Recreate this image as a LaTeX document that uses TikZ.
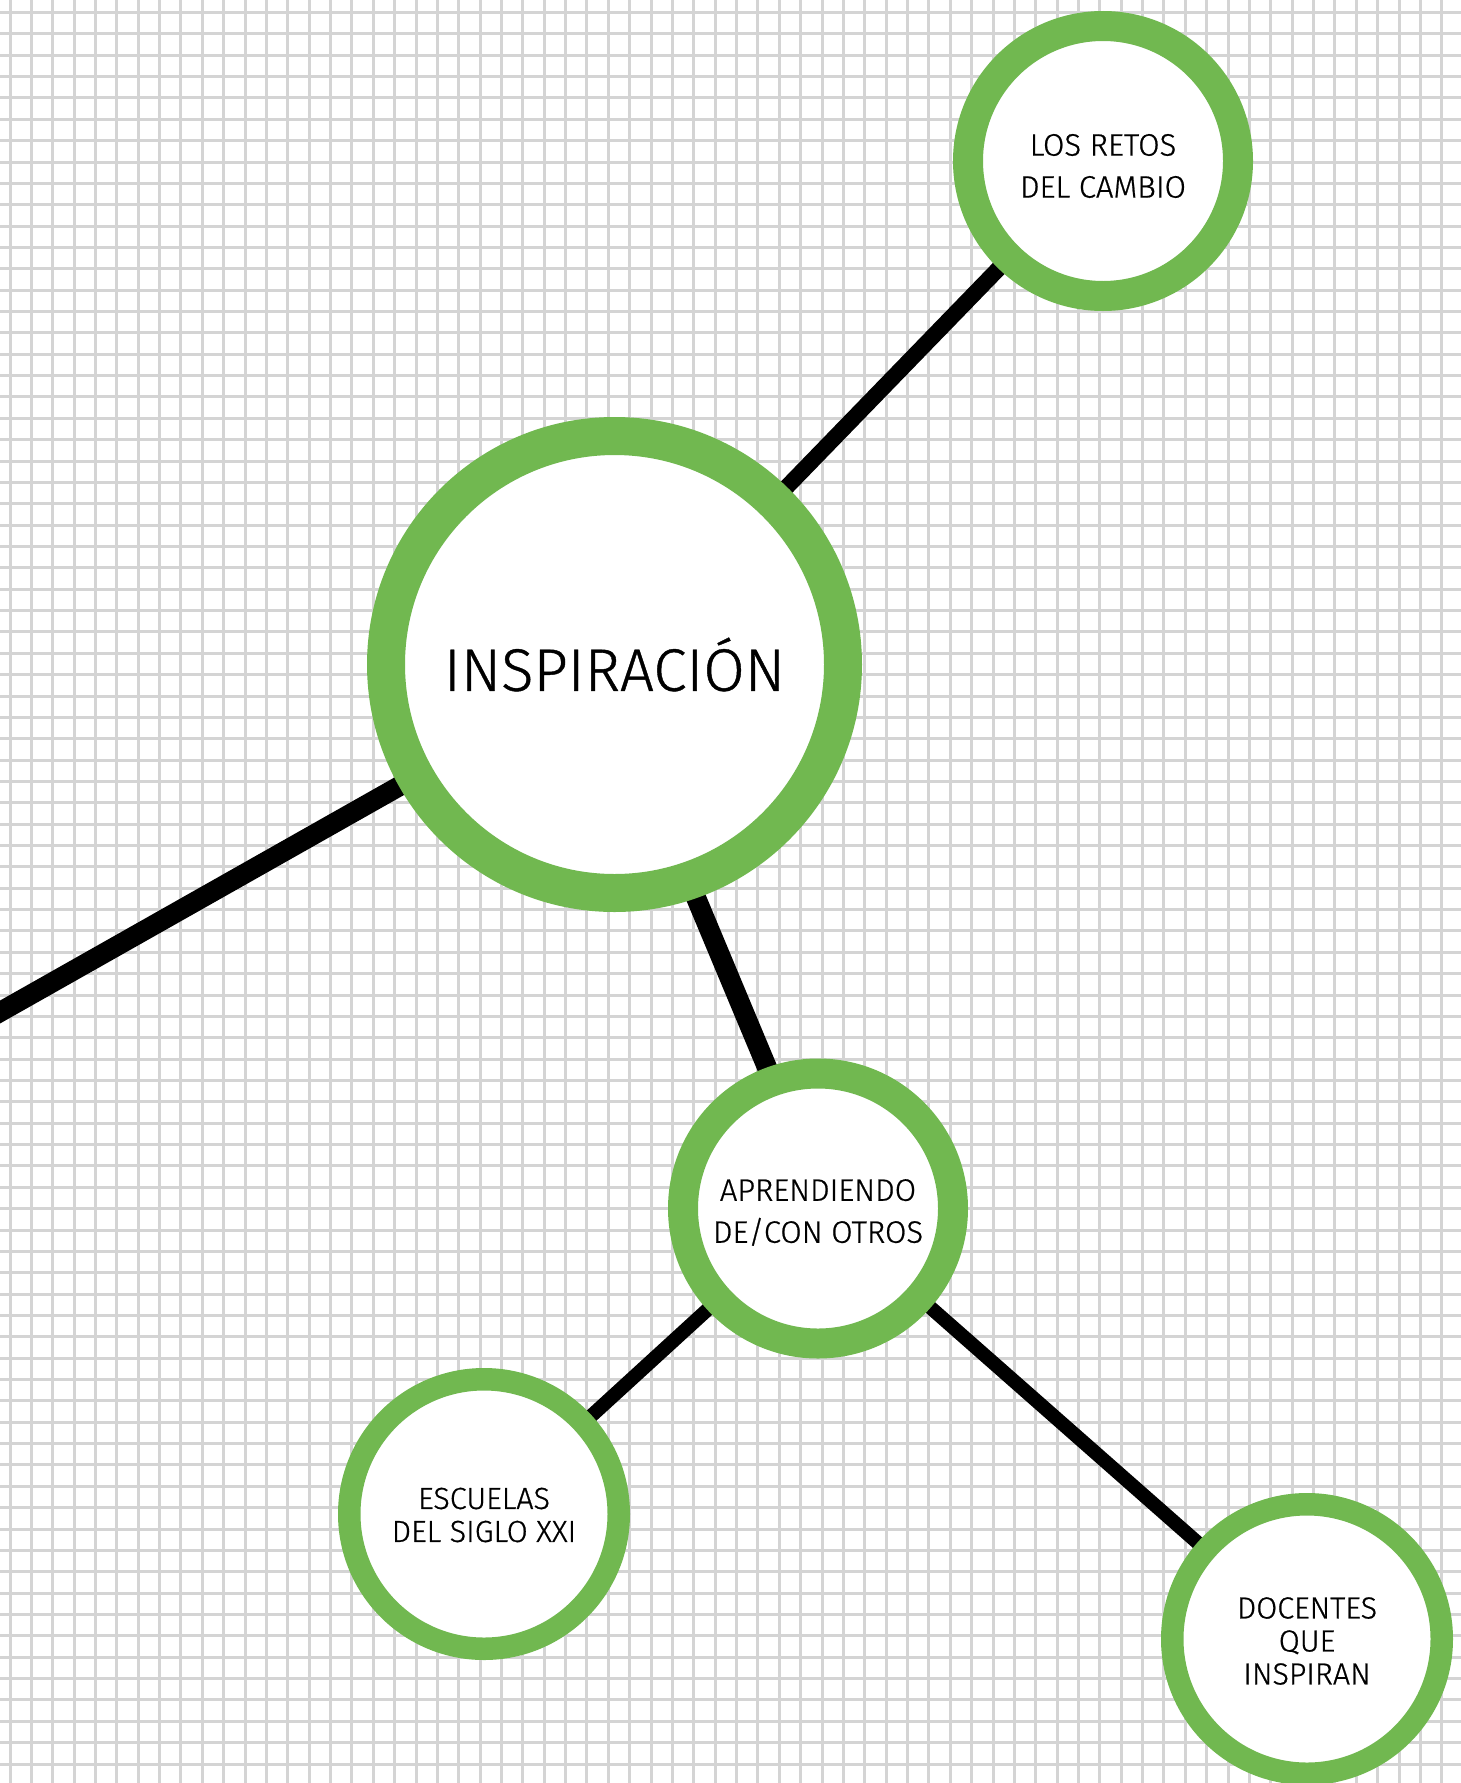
\documentclass[tikz,border=0pt]{standalone}
\usepackage{fontspec}
\setmainfont{Fira Sans}[UprightFont=* Light, UprightFeatures={FakeBold=0.7}]
\usetikzlibrary{calc}
\definecolor{ringgreen}{HTML}{71B850}
\definecolor{gridgray}{HTML}{D4D4D4}
\pgfdeclarelayer{paper}
\pgfdeclarelayer{links}
\pgfsetlayers{paper,links,main}
\tikzset{
  bubble/.style={circle, draw=ringgreen, fill=white, inner sep=0pt},
  bigbubble/.style={bubble, line width=38pt, minimum size=457pt},
  midbubble/.style={bubble, line width=30pt, minimum size=270pt},
  smallbubble/.style={bubble, line width=22.5pt, minimum size=269.5pt},
  bigtext/.style={align=center, text=black, inner sep=0pt, font=\fontsize{60}{70}\selectfont},
  midtext/.style={align=center, text=black, inner sep=0pt, font=\fontsize{31}{42}\selectfont},
  smalltext/.style={align=center, text=black, inner sep=0pt, font=\fontsize{30.5}{33}\selectfont},
  thicklink/.style={line width=20pt, black},
  toplink/.style={line width=16pt, black},
  thinlink/.style={line width=14pt, black},
  gridline/.style={line width=3pt, gridgray}
}
\begin{document}
\begin{tikzpicture}[x=1pt, y=-1pt]
\useasboundingbox (0,0) rectangle (1461,1783);

% concept bubbles, each with its caption set at the middle
\node[bigbubble, label={[bigtext]center:INSPIRACIÓN}] (insp) at (614.5,664.5) {};
\node[midbubble, label={[midtext, yshift=-5pt]center:LOS RETOS\\DEL CAMBIO}] (retos) at (1103,161) {};
\node[midbubble, label={[midtext, yshift=-4pt]center:APRENDIENDO\\DE/CON OTROS}] (aprend) at (818,1208.5) {};
\node[smallbubble, label={[smalltext, yshift=-1pt]center:ESCUELAS\\DEL SIGLO XXI}] (escuelas) at (484,1514) {};
\node[smallbubble, label={[smalltext, yshift=-2pt]center:DOCENTES\\QUE\\INSPIRAN}] (docentes) at (1307,1639) {};
\coordinate (leftend) at (-50,1040.3);

% squared paper
\begin{pgfonlayer}{paper}
  \fill[white] (0,0) rectangle (1461,1783);
  \foreach \i in {0,...,68} {
    \draw[gridline] ({10+21.37*\i},0) -- ++(0,1783);
  }
  \foreach \j in {0,...,83} {
    \draw[gridline] (0,{12.5+21.36*\j}) -- ++(1461,0);
  }
\end{pgfonlayer}

% connectors
\begin{pgfonlayer}{links}
  \draw[toplink] (insp.center) -- (retos.center);
  \draw[thicklink] (insp.center) -- (leftend);
  \draw[thicklink] ($(insp.center)+(-16,0)$) -- ($(aprend.center)+(8,0)$);
  \draw[thinlink] (aprend.center) -- (escuelas.center);
  \draw[thinlink] (aprend.center) -- (docentes.center);
\end{pgfonlayer}
\end{tikzpicture}
\end{document}
